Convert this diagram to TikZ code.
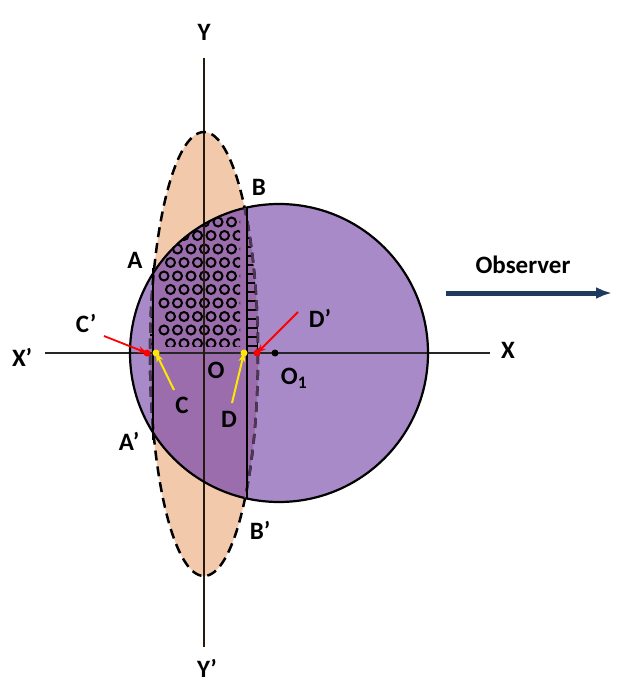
\documentclass[tikz,border=0pt]{standalone}
\usepackage{fontspec}
\setmainfont{Carlito}
\usetikzlibrary{arrows.meta}
\begin{document}
\begin{tikzpicture}[x=1pt,y=-1pt,
  lbl/.style={font=\bfseries\fontsize{25}{27}\selectfont},
  dotr/.style={fill=red,draw=none},
  doty/.style={fill=yellow!90!orange,draw=none}]
\useasboundingbox (0,0) rectangle (620,692);
\definecolor{peach}{HTML}{F2CAAB}
\definecolor{lilac}{HTML}{A98AC8}
\definecolor{deep}{HTML}{9B6DAD}
\definecolor{navy}{HTML}{1F3A5F}
\def\elpath{(204,354) ellipse [x radius=54,y radius=222]}
\def\cirpath{(279,353) circle [radius=149]}
\fill[peach] \elpath;
\fill[lilac] \cirpath;
\begin{scope}
\clip \cirpath;
\fill[deep] \elpath;
\end{scope}
% circles pattern
\begin{scope}
\clip \cirpath;
\clip (157,150) rectangle (240,346);
\foreach \r in {0,...,9}{
  \foreach \c in {0,...,6}{
    \pgfmathsetmacro{\xx}{164+\c*13.5+mod(\r,2)*6.5}
    \pgfmathsetmacro{\yy}{222+\r*13.5}
    \draw[line width=2pt] (\xx,\yy) circle [radius=4.5];
  }}
\end{scope}
% ladder
\begin{scope}
\clip \cirpath; \clip \elpath;
\clip (247,150) rectangle (262,350);
\foreach \y in {220,229,...,346} \draw[line width=1.8pt] (247,\y) -- (262,\y);
\draw[line width=1.8pt] (258,215) -- (258,350);
\end{scope}
\begin{scope}
\clip \cirpath; \clip \elpath;
\clip (140,270) rectangle (153,350);
\foreach \y in {290,299,...,346} \draw[line width=1.8pt] (140,\y) -- (153,\y);
\end{scope}
% axes
\coordinate (xl) at (45,353); \coordinate (xr) at (490,353);
\coordinate (yt) at (204,58); \coordinate (yb) at (204,647);
\draw[line width=2pt, black!85] (xl) -- (xr);
\draw[line width=2pt, black!80!brown] (yt) -- (yb);
% outlines
\draw[line width=2.2pt] \cirpath;
\draw[line width=2.5pt,dash pattern=on 10pt off 6pt] \elpath;
\begin{scope}
\clip \cirpath;
\draw[line width=2.5pt,dash pattern=on 10pt off 6pt,deep!50!black] \elpath;
\end{scope}
% vertical chords
\coordinate (Ap) at (153,268); \coordinate (App) at (153,440);
\coordinate (Bp) at (247,208); \coordinate (Bpp) at (247,498);
\draw[line width=2.2pt] (Ap) -- (App);
\draw[line width=2.2pt] (Bp) -- (Bpp);
% points
\fill[dotr] (147,353) circle (3.5) coordinate (cp);
\fill[doty] (156,353) circle (3.5) coordinate (c);
\fill[doty] (244,353) circle (3.5) coordinate (d);
\fill[dotr] (257,353) circle (3.5) coordinate (dp);
\fill (275,353) circle (3.5);
% labels
\node[lbl] (Y) at (204,32) {Y};
\node[lbl] (Yp) at (207,668) {Y'};
\node[lbl] (X) at (508,350) {X};
\node[lbl] (Xp) at (22,357) {X'};
\node[lbl] (A) at (135,260) {A};
\node[lbl] (B) at (259,187) {B};
\node[lbl] (Apl) at (129,441) {A'};
\node[lbl] (Bpl) at (260,530) {B'};
\node[lbl] (O) at (216,370) {O};
\node[lbl] (O1) at (294,378) {O$_{\mathbf 1}$};
\node[lbl] (Cpl) at (86,323) {C'};
\node[lbl] (Dpl) at (320,318) {D'};
\node[lbl] (Cl) at (182,405) {C};
\node[lbl] (Dl) at (229,419) {D};
\node[lbl] (obs) at (523,265) {Observer};
\draw[red,line width=1.8pt,-{Stealth[length=9pt,width=7pt]}] (104,336) -- (cp);
\draw[red,line width=1.8pt,-{Stealth[length=9pt,width=7pt]}] (298,312) -- (dp);
\draw[yellow!90!orange,line width=2pt,-{Stealth[length=9pt,width=7pt]}] (174,390) -- (c);
\draw[yellow!90!orange,line width=2pt,-{Stealth[length=9pt,width=7pt]}] (232,403) -- (d);
\coordinate (o1) at (446,293); \coordinate (o2) at (612,293);
\draw[navy,line width=5pt,-{Latex[length=16pt,width=12pt]}] (o1) -- (o2);
\end{tikzpicture}
\end{document}
